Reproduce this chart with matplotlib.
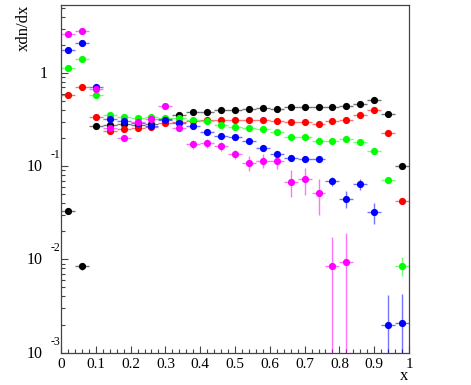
import numpy as np
import matplotlib
matplotlib.use('Agg')
import matplotlib.pyplot as plt
import matplotlib.transforms as mtransforms

plt.rcParams['font.family'] = ['Liberation Serif', 'DejaVu Serif']

# bin centres (bin width 0.04)
x = np.arange(0.02, 1.0, 0.04)
half_width = 0.02

black = [0.0334, 0.0084, 0.271, 0.28, 0.285, 0.28, 0.285, 0.318, 0.356, 0.380, 0.386, 0.397, 0.405,
         0.412, 0.419, 0.412, 0.434, 0.431, 0.435, 0.431, 0.445, 0.460, 0.517, 0.360, 0.1016]
black_err = [0.002, 0.0007, 0.006, 0.005, 0.005, 0.005, 0.005, 0.005, 0.005, 0.005, 0.005, 0.005, 0.005,
             0.005, 0.005, 0.005, 0.006, 0.006, 0.006, 0.006, 0.007, 0.007, 0.008, 0.007, 0.004]

red = [0.58, 0.70, 0.337, 0.238, 0.250, 0.258, 0.265, 0.290, 0.300, 0.305, 0.313, 0.317, 0.313,
       0.313, 0.313, 0.308, 0.301, 0.295, 0.281, 0.307, 0.315, 0.353, 0.397, 0.230, 0.0424]
red_err = [0.02, 0.02, 0.008, 0.006, 0.006, 0.006, 0.006, 0.006, 0.006, 0.006, 0.006, 0.006, 0.006,
           0.006, 0.006, 0.006, 0.006, 0.006, 0.006, 0.007, 0.007, 0.008, 0.009, 0.008, 0.003]

green = [1.12, 1.41, 0.585, 0.356, 0.340, 0.333, 0.339, 0.330, 0.328, 0.312, 0.302, 0.276, 0.262,
         0.256, 0.250, 0.235, 0.205, 0.205, 0.187, 0.188, 0.196, 0.181, 0.145, 0.071, 0.0086]
green_err = [0.03, 0.04, 0.015, 0.008, 0.008, 0.008, 0.008, 0.008, 0.008, 0.008, 0.008, 0.007, 0.007,
             0.007, 0.007, 0.007, 0.007, 0.007, 0.007, 0.007, 0.007, 0.007, 0.007, 0.005, 0.0019]

blue = [1.77, 2.09, 0.70, 0.320, 0.307, 0.290, 0.272, 0.310, 0.290, 0.270, 0.235, 0.211, 0.208,
        0.188, 0.158, 0.135, 0.123, 0.121, 0.119, 0.0688, 0.0448, 0.0641, 0.0321, 0.0020, 0.0021]
blue_err = [0.05, 0.06, 0.02, 0.008, 0.008, 0.008, 0.008, 0.008, 0.008, 0.008, 0.008, 0.008, 0.008,
            0.008, 0.008, 0.008, 0.008, 0.008, 0.008, 0.007, 0.009, 0.008, 0.008, 0.0021, 0.0022]

magenta = [2.61, 2.85, 0.68, 0.256, 0.203, 0.296, 0.320, 0.444, 0.256, 0.172, 0.176, 0.164, 0.134,
           0.108, 0.115, 0.115, 0.0683, 0.0724, 0.0513, 0.0086, 0.0093]
magenta_err = [0.08, 0.08, 0.03, 0.012, 0.012, 0.012, 0.013, 0.015, 0.018, 0.02, 0.018, 0.018, 0.015,
               0.02, 0.02, 0.021, 0.022, 0.023, 0.021, 0.0088, 0.0097]

series = [
    (black, black_err, '#000000'),
    (red, red_err, '#ff0000'),
    (green, green_err, '#00ff00'),
    (blue, blue_err, '#0000ff'),
    (magenta, magenta_err, '#ff00ff'),
]

fig = plt.figure(figsize=(4.71, 3.85), dpi=100)
ax = fig.add_axes([61 / 471, 1 - 352.6 / 385, 348 / 471, 347.6 / 385])

for vals, errs, col in series:
    n = len(vals)
    ecol = matplotlib.colors.to_rgba(col, 0.55)
    ax.errorbar(x[:n], vals, xerr=half_width, yerr=errs, fmt='o', color=col, ecolor=ecol,
                ms=5.2, mew=0, elinewidth=1.0, capsize=0)

ax.set_yscale('log')
ax.set_xlim(0, 1)
ax.set_ylim(1e-3, 5.37)

for s in ax.spines.values():
    s.set_color('#444444')
    s.set_linewidth(0.9)

ax.set_xticks(np.arange(0, 1.01, 0.1))
ax.set_xticklabels(['0', '0.1', '0.2', '0.3', '0.4', '0.5', '0.6', '0.7', '0.8', '0.9', '1'])
ax.set_xticks(np.arange(0, 1.001, 0.02), minor=True)
ax.tick_params(axis='x', which='major', direction='in', length=5, width=0.8, color='#444444',
               labelsize=11, pad=4, top=False)
ax.tick_params(axis='x', which='minor', direction='in', length=3, width=0.8, color='#444444', top=False)
ax.tick_params(axis='y', which='major', direction='in', length=5, width=0.8, color='#444444',
               labelleft=False, right=False)
ax.tick_params(axis='y', which='minor', direction='in', length=2.8, width=0.8, color='#444444',
               labelleft=False, right=False)
ax.yaxis.set_minor_locator(matplotlib.ticker.LogLocator(base=10, subs=np.arange(2, 10)))
ax.yaxis.set_minor_formatter(matplotlib.ticker.NullFormatter())

# ROOT style y labels
trans = mtransforms.blended_transform_factory(ax.transAxes, ax.transData)
off_base = mtransforms.offset_copy(trans, fig=fig, x=0, y=-1, units='dots')
off_sup = mtransforms.offset_copy(trans, fig=fig, x=0, y=11, units='dots')
ax.text(-13 / 348, 1, '1', transform=off_base, ha='right', va='center', fontsize=11.5)
for val, exp in [(0.1, '-1'), (0.01, '-2'), (0.001, '-3')]:
    ax.text(-18 / 348, val, '10', transform=off_base, ha='right', va='center', fontsize=11.5)
    ax.text(-1 / 348, val, exp, transform=off_sup, ha='right', va='center', fontsize=8.5)

fig.text(408 / 471, 1 - 376 / 385, 'x', ha='right', va='center', fontsize=12)
fig.text(24 / 471, 1 - 5 / 385, 'xdn/dx', ha='center', va='top', rotation=90, fontsize=12)

fig.savefig('out.png', dpi=100)
